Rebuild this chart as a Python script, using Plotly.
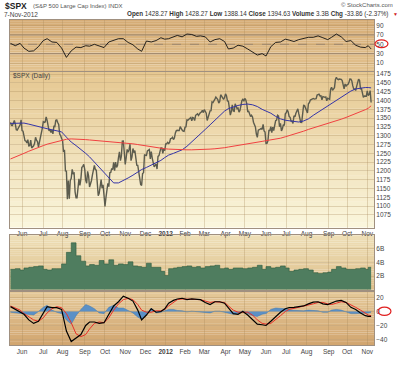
import pandas as pd
import plotly.graph_objects as go
from plotly.subplots import make_subplots

# ---------------- data ----------------
HOLIDAYS = ["2011-05-30", "2011-07-04", "2011-09-05", "2011-11-24", "2011-12-26",
            "2012-01-02", "2012-01-16", "2012-02-20", "2012-04-06", "2012-05-28",
            "2012-07-04", "2012-09-03", "2012-10-29", "2012-10-30"]

CLOSE = [
    # May 2011 (from 13th)
    1337.77, 1329.47, 1328.98, 1340.68, 1343.60, 1333.27, 1317.37, 1316.28, 1320.47, 1325.69, 1331.10, 1345.20,
    # Jun 2011
    1314.55, 1312.94, 1300.16, 1286.17, 1284.94, 1279.56, 1289.00, 1270.98, 1271.83, 1287.87, 1265.42,
    1267.64, 1271.50, 1278.36, 1295.52, 1287.14, 1283.50, 1268.45, 1280.10, 1296.67, 1307.41, 1320.64,
    # Jul 2011
    1339.67, 1337.88, 1339.22, 1353.22, 1343.80, 1319.49, 1313.64, 1317.72, 1308.87, 1316.14,
    1305.44, 1326.73, 1325.84, 1343.80, 1345.02, 1337.43, 1331.94, 1304.89, 1300.67, 1292.28,
    # Aug 2011
    1286.94, 1254.05, 1260.34, 1200.07, 1199.38, 1119.46, 1172.53, 1120.76, 1172.64, 1178.81, 1204.49, 1192.76,
    1193.89, 1140.65, 1123.53, 1123.82, 1162.35, 1177.60, 1159.27, 1176.80, 1210.08, 1212.92, 1218.89,
    # Sep 2011
    1204.42, 1173.97, 1165.24, 1198.62, 1185.90, 1154.23, 1162.27, 1172.87, 1188.68, 1209.11, 1216.01,
    1204.09, 1202.09, 1166.76, 1129.56, 1136.43, 1162.95, 1175.38, 1151.06, 1160.40, 1131.42,
    # Oct 2011
    1099.23, 1123.95, 1144.03, 1164.97, 1155.46, 1194.89, 1195.54, 1207.25, 1203.66, 1224.58, 1200.86,
    1225.38, 1209.88, 1215.39, 1238.25, 1254.19, 1229.05, 1242.00, 1284.59, 1285.09, 1253.30,
    # Nov 2011
    1218.28, 1237.90, 1261.15, 1253.23, 1261.12, 1275.92, 1229.10, 1239.69, 1263.85, 1251.78, 1257.81,
    1236.91, 1216.13, 1215.65, 1192.98, 1188.04, 1161.79, 1158.67, 1192.55, 1195.19, 1246.96,
    # Dec 2011
    1244.58, 1244.28, 1257.08, 1258.47, 1261.01, 1234.35, 1255.19, 1236.47, 1225.73, 1211.82, 1215.75,
    1219.66, 1205.35, 1241.30, 1243.72, 1254.00, 1265.33, 1265.43, 1249.64, 1263.02, 1257.60,
    # Jan 2012
    1277.06, 1277.30, 1281.06, 1277.81, 1280.70, 1292.08, 1292.48, 1295.50, 1289.09, 1293.67,
    1308.04, 1314.50, 1315.38, 1316.00, 1314.65, 1326.06, 1318.43, 1316.33, 1313.01, 1312.41,
    # Feb 2012
    1324.09, 1325.54, 1344.90, 1344.33, 1347.05, 1349.96, 1351.95, 1342.64, 1351.77, 1350.50,
    1343.23, 1358.04, 1361.23, 1362.21, 1357.66, 1363.46, 1365.74, 1367.59, 1372.18, 1365.68,
    # Mar 2012
    1374.09, 1369.63, 1364.33, 1343.36, 1352.63, 1365.91, 1370.87, 1371.09, 1395.95, 1394.28, 1402.60,
    1404.17, 1409.75, 1405.52, 1402.89, 1392.78, 1397.11, 1416.51, 1412.52, 1405.54, 1403.28, 1408.47,
    # Apr 2012
    1419.04, 1413.38, 1398.96, 1398.08, 1382.20, 1358.59, 1368.71, 1387.57, 1370.26, 1369.57,
    1390.78, 1385.14, 1376.92, 1378.53, 1366.94, 1371.97, 1390.69, 1399.98, 1403.36, 1397.91,
    # May 2012
    1405.82, 1402.31, 1391.57, 1369.10, 1369.58, 1363.72, 1354.58, 1357.99, 1353.39, 1338.35, 1330.66,
    1324.80, 1304.86, 1295.22, 1315.99, 1316.63, 1318.86, 1320.68, 1317.82, 1332.42, 1313.32, 1310.33,
    # Jun 2012
    1278.04, 1278.18, 1285.50, 1315.13, 1314.99, 1325.66, 1308.93, 1324.18, 1314.88, 1329.10, 1342.84,
    1344.78, 1357.98, 1355.69, 1325.51, 1335.02, 1313.72, 1319.99, 1331.85, 1329.04, 1362.16,
    # Jul 2012
    1365.51, 1374.02, 1367.58, 1354.68, 1352.46, 1341.47, 1341.45, 1334.76, 1356.78, 1353.64, 1363.67,
    1372.78, 1376.51, 1362.66, 1350.52, 1338.31, 1337.89, 1360.02, 1385.97, 1385.30, 1379.32,
    # Aug 2012
    1375.14, 1365.00, 1390.99, 1394.23, 1401.35, 1402.22, 1402.80, 1405.87, 1404.11, 1403.93, 1405.53, 1415.51,
    1418.16, 1418.13, 1413.17, 1413.49, 1402.08, 1411.13, 1410.44, 1409.30, 1410.49, 1399.48, 1406.58,
    # Sep 2012
    1404.94, 1403.44, 1432.12, 1437.92, 1429.08, 1433.56, 1436.56, 1459.99, 1465.77, 1461.19,
    1459.32, 1461.05, 1460.26, 1460.15, 1456.89, 1441.59, 1433.32, 1447.15, 1440.67,
    # Oct 2012
    1444.49, 1445.75, 1450.99, 1461.40, 1460.93, 1455.88, 1441.48, 1432.56, 1432.84, 1428.59, 1440.13,
    1454.92, 1460.91, 1457.34, 1433.19, 1433.82, 1413.11, 1408.75, 1412.97, 1411.94, 1412.16,
    # Nov 2012
    1427.59, 1414.20, 1417.26, 1428.39, 1394.63,
]

WEEKS = ["2011-05-13", "2011-05-20", "2011-05-27", "2011-06-03", "2011-06-10", "2011-06-17", "2011-06-24",
         "2011-07-01", "2011-07-08", "2011-07-15", "2011-07-22", "2011-07-29", "2011-08-05", "2011-08-12",
         "2011-08-19", "2011-08-26", "2011-09-02", "2011-09-09", "2011-09-16", "2011-09-23", "2011-09-30",
         "2011-10-07", "2011-10-14", "2011-10-21", "2011-10-28", "2011-11-04", "2011-11-11", "2011-11-18",
         "2011-11-25", "2011-12-02", "2011-12-09", "2011-12-16", "2011-12-23", "2011-12-30", "2012-01-06",
         "2012-01-13", "2012-01-20", "2012-01-27", "2012-02-03", "2012-02-10", "2012-02-17", "2012-02-24",
         "2012-03-02", "2012-03-09", "2012-03-16", "2012-03-23", "2012-03-30", "2012-04-05", "2012-04-13",
         "2012-04-20", "2012-04-27", "2012-05-04", "2012-05-11", "2012-05-18", "2012-05-25", "2012-06-01",
         "2012-06-08", "2012-06-15", "2012-06-22", "2012-06-29", "2012-07-06", "2012-07-13", "2012-07-20",
         "2012-07-27", "2012-08-03", "2012-08-10", "2012-08-17", "2012-08-24", "2012-08-31", "2012-09-07",
         "2012-09-14", "2012-09-21", "2012-09-28", "2012-10-05", "2012-10-12", "2012-10-19", "2012-10-26",
         "2012-11-02", "2012-11-07"]

MA50 = [1335, 1336, 1337, 1336, 1333, 1329, 1325, 1322, 1320, 1317, 1315, 1311, 1296, 1282, 1272, 1262,
        1250, 1240, 1225, 1210, 1196, 1178, 1166, 1166, 1172, 1180, 1188, 1197, 1204, 1210, 1216, 1222,
        1230, 1238, 1245, 1250, 1254, 1260, 1270, 1282, 1294, 1304, 1318, 1331, 1345, 1358, 1370, 1377,
        1382, 1386, 1389, 1390, 1388, 1383, 1375, 1371, 1364, 1355, 1348, 1344, 1342, 1340, 1339, 1342,
        1348, 1358, 1367, 1376, 1384, 1390, 1399, 1408, 1418, 1427, 1433, 1436, 1437, 1437, 1436]

MA200 = [1234, 1239, 1245, 1250, 1256, 1262, 1267, 1272, 1276, 1280, 1284, 1287, 1290, 1291, 1291, 1290,
         1289, 1288, 1287, 1286, 1285, 1284, 1283, 1282, 1280, 1279, 1277, 1275, 1273, 1271, 1269, 1267,
         1265, 1263, 1262, 1261, 1260, 1260, 1260, 1260, 1260, 1260, 1261, 1262, 1263, 1264, 1266, 1268,
         1270, 1272, 1275, 1277, 1279, 1281, 1284, 1286, 1288, 1290, 1293, 1297, 1300, 1304, 1308, 1313,
         1318, 1322, 1326, 1330, 1335, 1338, 1342, 1347, 1352, 1357, 1362, 1368, 1374, 1378, 1385]

RSI = [52, 47, 52, 42, 35, 36, 45, 58, 62, 55, 54, 42, 22, 36, 44, 43, 47, 46, 50, 47,
       43, 55, 58, 62, 62, 54, 49, 40, 35, 57, 55, 58, 64, 61, 62, 66, 69, 66, 72, 71,
       67, 68, 66, 55, 60, 62, 56, 40, 42, 48, 46, 40, 33, 27, 30, 25, 45, 54, 55, 61,
       59, 56, 60, 63, 65, 65, 68, 64, 60, 65, 72, 66, 56, 58, 48, 44, 43, 47, 40]

VOLUME_B = [3.0, 3.1, 2.9, 3.2, 3.3, 3.4, 3.5, 3.0, 2.9, 3.1, 3.1, 3.8, 5.5, 6.9, 5.0, 4.2, 3.5, 3.7, 3.6, 4.3,
            3.8, 4.4, 3.6, 3.8, 3.7, 4.1, 3.5, 3.4, 3.3, 3.9, 3.3, 3.3, 2.7, 2.1, 3.1, 3.2, 3.3, 3.4, 3.5, 3.3,
            3.4, 3.2, 3.4, 3.5, 3.6, 3.1, 3.2, 3.0, 3.2, 3.2, 3.1, 3.2, 3.3, 3.6, 3.0, 3.4, 3.2, 3.3, 3.5, 3.2,
            2.7, 2.9, 3.0, 3.1, 2.9, 2.5, 2.4, 2.5, 2.6, 3.0, 3.4, 3.2, 3.0, 3.0, 3.1, 3.2, 3.0, 3.3, 3.3]

MACD = [7, 3, 0, -4, -12, -17, -14, -3, 7, 5.5, 5.5, 3, -28, -43, -38, -33, -20, -15, -15, -17,
        -16, -3, 8, 14, 22, 19, 15, 2, -12, -5, 4, -1, 0, 4, 12, 16, 18, 19, 17, 18,
        18, 17, 13, 10, 14, 14, 12, 5, -3, -4, 0, -5, -12, -18, -19, -20, -14, -7, -1, 4,
        5.5, 6, 7, 8, 11, 13.5, 14, 11, 10, 12, 15, 16, 13, 6, 3, -2, -6, -7, -7]

SIGNAL = [8, 5, 2, -3, -8, -12, -14, -9, -2, 4, 7, 5.5, -3, -16, -32, -36, -33, -25, -17, -15,
          -16, -9, 2, 11, 17, 19, 17, 10, 2, -1, -1, 1, 1, 3, 8, 13, 17, 18, 18, 18,
          18, 17, 15, 13, 14, 14, 13, 8, 2, -1, -1, -1, -5, -12, -17, -18, -17, -12, -6, 0,
          3, 4.5, 6, 7, 9, 11, 13, 13, 11, 10, 12, 14, 13, 10, 6, 2, -3, -5, -6]

HIST = [-1, -2, -2, -3, -4, -5, 0, 6, 9, 2, -1, -3, -12, -18, -6, 3, 10, 8, 4, -2,
        -3, 6, 9, 5, 5, 1, -2, -8, -11, -4, 5, -2, -1, 1, 3, 3, 1.5, 1, -0.5, 0.5,
        0, 0, -1.5, -2, 0.5, 0.5, -1, -2, -4, -3, 1, -3, -6, -7, -4, -3, 3, 5, 5, 4,
        2, 1.5, 1, 1, 2, 2, 1, -1, -1, 2, 3, 2, 0, -3, -3, -3, -3, -2, -1]

MONTH_LABELS = ["Jun", "Jul", "Aug", "Sep", "Oct", "Nov", "Dec", "<b>2012</b>", "Feb", "Mar", "Apr",
                "May", "Jun", "Jul", "Aug", "Sep", "Oct", "Nov"]
PRICE_TICKS = list(range(1075, 1476, 25))
RSI_TICKS = [10, 30, 50, 70, 90]
VOL_TICKS = [2, 4, 6]
VOL_TEXT = ["2B", "4B", "6B"]
MACD_TICKS = [-40, -20, 0, 20]

# ---------------- build ----------------
days = pd.bdate_range("2011-05-13", "2012-11-07", freq="C", holidays=HOLIDAYS)
n = min(len(days), len(CLOSE))
days = days[:n]
ser = pd.Series(days)
month_firsts = ser.groupby([ser.dt.year, ser.dt.month]).first().tolist()[1:]

W, H = 400, 365
L, R, T, B = 9, 26, 20, 10
PW, PH = W - L - R, H - T - B


def px(x):
    return (x - L) / PW


def py(y):
    return (H - B - y) / PH


FONT = "Liberation Sans, Arial, sans-serif"

fig = make_subplots(rows=4, cols=1, shared_xaxes=True, vertical_spacing=0.01)

# RSI
fig.add_trace(go.Scatter(x=WEEKS, y=RSI, mode="lines", line=dict(color="#111111", width=0.9),
                         hoverinfo="skip"), row=1, col=1)
# Price
fig.add_trace(go.Scatter(x=days, y=CLOSE[:n], mode="lines", line=dict(color="#5c5c4e", width=1.4),
                         hoverinfo="skip"), row=2, col=1)
fig.add_trace(go.Scatter(x=WEEKS, y=MA50, mode="lines", line=dict(color="#3434a8", width=1),
                         hoverinfo="skip"), row=2, col=1)
fig.add_trace(go.Scatter(x=WEEKS, y=MA200, mode="lines", line=dict(color="#f04040", width=1),
                         hoverinfo="skip"), row=2, col=1)
# Volume
fig.add_trace(go.Scatter(x=WEEKS, y=VOLUME_B, mode="lines", line=dict(color="#2e5a3e", width=0.6, shape="hv"),
                         fill="tozeroy", fillcolor="#4f7d5f", hoverinfo="skip"), row=3, col=1)
# MACD
fig.add_trace(go.Scatter(x=WEEKS, y=HIST, mode="lines", line=dict(color="#3f78b0", width=0.5),
                         fill="tozeroy", fillcolor="#5b90c6", hoverinfo="skip"), row=4, col=1)
fig.add_trace(go.Scatter(x=WEEKS, y=SIGNAL, mode="lines", line=dict(color="#e83028", width=1),
                         hoverinfo="skip"), row=4, col=1)
fig.add_trace(go.Scatter(x=WEEKS, y=MACD, mode="lines", line=dict(color="#000000", width=1.2),
                         hoverinfo="skip"), row=4, col=1)

grid = "rgba(165,135,90,0.30)"
border = "#a09080"
tickfont = dict(family=FONT, size=6.5, color="#444444")

rb = [dict(bounds=["sat", "mon"]), dict(values=HOLIDAYS)]
fig.update_xaxes(range=["2011-05-12 12:00", "2012-11-12"], rangebreaks=rb,
                 tickvals=month_firsts, ticktext=MONTH_LABELS, showgrid=True, gridcolor=grid,
                 gridwidth=1, showline=True, mirror=True, linecolor=border, linewidth=1,
                 ticks="", ticklen=0, tickfont=tickfont, showticklabels=False, zeroline=False)
fig.update_xaxes(showticklabels=True, row=2, col=1)
fig.update_xaxes(showticklabels=True, row=4, col=1)

fig.update_yaxes(side="right", showgrid=True, gridcolor=grid, showline=True, mirror=True,
                 linecolor=border, linewidth=1, ticks="", ticklen=0, tickfont=tickfont, zeroline=False)

fig.update_layout(
    yaxis=dict(domain=[py(73), py(20)], range=[-8, 102], tickvals=RSI_TICKS),
    yaxis2=dict(domain=[py(234), py(74)], range=[1039, 1480], tickvals=PRICE_TICKS),
    yaxis3=dict(domain=[py(298), py(242)], range=[0, 8], tickvals=VOL_TICKS, ticktext=VOL_TEXT),
    yaxis4=dict(domain=[py(355), py(300)], range=[-48, 28.5], tickvals=MACD_TICKS),
)


def mix(c1, c2, t):
    return "rgb(%d,%d,%d)" % tuple(round(a + (b - a) * t) for a, b in zip(c1, c2))


shapes = []
panels = [("y domain", (214, 172, 118), (226, 194, 142)),
          ("y2 domain", (230, 200, 146), (250, 246, 220)),
          ("y3 domain", (238, 222, 182), (222, 192, 140)),
          ("y4 domain", (228, 200, 152), (210, 166, 112))]
NB = 30
for yref, top, bot in panels:
    for i in range(NB):
        shapes.append(dict(type="rect", xref="x domain", yref=yref, x0=0, x1=1,
                           y0=i / NB, y1=(i + 1) / NB + 0.002, fillcolor=mix(bot, top, i / (NB - 1)),
                           line=dict(width=0), layer="below"))
# RSI guide lines
for lvl, dash in [(70, "solid"), (30, "solid"), (50, "dash")]:
    shapes.append(dict(type="line", xref="x domain", yref="y", x0=0, x1=1, y0=lvl, y1=lvl,
                       line=dict(color="#9a8878", width=1, dash=dash), layer="below"))
# red hand-drawn ovals on the axes
shapes.append(dict(type="circle", xref="paper", yref="paper", x0=px(375), x1=px(388),
                   y0=py(48.5), y1=py(40.5), line=dict(color="#e02020", width=1.2)))
shapes.append(dict(type="circle", xref="paper", yref="paper", x0=px(378), x1=px(391),
                   y0=py(324.5), y1=py(316), line=dict(color="#e02020", width=1.2)))

ann = []


def text(x, y, s, size=6.5, color="#333333", anchor="left"):
    ann.append(dict(xref="paper", yref="paper", x=px(x), y=py(y), text=s, showarrow=False,
                    xanchor=anchor, yanchor="middle", font=dict(family=FONT, size=size, color=color)))


text(2, 6, "<b>$SPX</b>", size=8.5, color="#222222")
text(30, 6, "(S&P 500 Large Cap Index) INDX", size=6, color="#555555")
text(395, 5, "© StockCharts.com", size=6, color="#555555", anchor="right")
text(1, 14, "7-Nov-2012", size=6.5, color="#444444")
text(390, 14, "<b>Open</b> 1428.27 <b>High</b> 1428.27 <b>Low</b> 1388.14 <b>Close</b> 1394.63 "
     "<b>Volume</b> 3.3B <b>Chg</b> -33.86 (-2.37%)", size=6.3, color="#333333", anchor="right")
text(391, 14, "▼", size=5, color="#d02020")
text(10, 78, "$SPX (Daily)", size=6.5, color="#444444")

fig.update_layout(
    width=W, height=H, margin=dict(l=L, r=R, t=T, b=B), showlegend=False,
    paper_bgcolor="white", plot_bgcolor="rgba(0,0,0,0)", shapes=shapes, annotations=ann,
    font=dict(family=FONT, size=7, color="#333333"),
)

fig.write_html("out.html", config={"displayModeBar": False},
               post_script="document.body.style.margin='0px';")
